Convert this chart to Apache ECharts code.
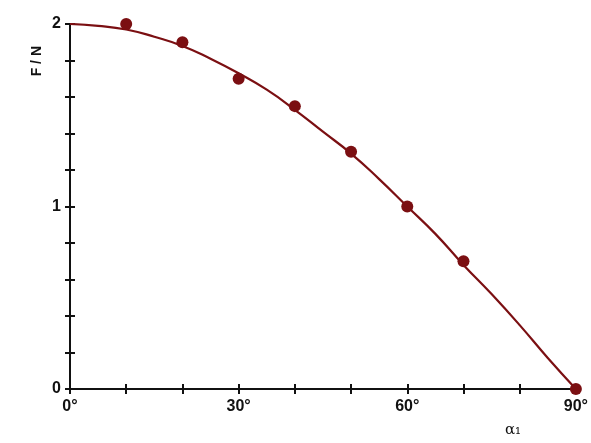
<!DOCTYPE html>
<html>
<head>
<meta charset="utf-8">
<script src="https://cdn.jsdelivr.net/npm/echarts@6/dist/echarts.min.js"></script>
<style>
  html, body { margin: 0; padding: 0; background: #fff; }
  #main { width: 591px; height: 443px; }
</style>
</head>
<body>
<div id="main"></div>
<script>
// measured points (angle in degrees, force in N)
var angles = [10, 20, 30, 40, 50, 60, 70, 90];
var forces = [2.0, 1.9, 1.7, 1.55, 1.3, 1.0, 0.7, 0];

// fitted curve
var curveAngles = [0, 5, 10, 15, 20, 25, 30, 35, 40, 45, 50, 55, 60, 65, 70, 75, 80, 85, 90];
var curveForces = [2.0, 1.99, 1.97, 1.93, 1.88, 1.81, 1.73, 1.64, 1.53, 1.41, 1.29, 1.15, 1.0, 0.85, 0.68, 0.52, 0.35, 0.17, 0];

var xLabels = [0, 30, 60, 90];
var yLabels = [0, 1, 2];

var chart = echarts.init(document.getElementById('main'));

var darkRed = '#7b0f12';
var axisFont = { fontFamily: 'Liberation Sans', fontWeight: 'bold', fontSize: 16, color: '#111' };

function pairs(xs, ys) {
  return xs.map(function (x, i) { return [x, ys[i]]; });
}

var option = {
  backgroundColor: '#fff',
  animation: false,
  grid: { left: 70, right: 14, top: 24, bottom: 49 },
  xAxis: [
    {
      type: 'value', min: 0, max: 90, interval: 10,
      axisLine: { lineStyle: { color: '#111', width: 2 } },
      axisTick: { show: true, length: 5, lineStyle: { color: '#111', width: 2 } },
      splitLine: { show: false },
      axisLabel: Object.assign({
        margin: 10,
        formatter: function (v) { return xLabels.indexOf(v) >= 0 ? v + '°' : ''; }
      }, axisFont),
      name: 'α₁',
      nameLocation: 'middle',
      nameGap: 34,
      nameTextStyle: { fontFamily: 'DejaVu Serif', fontSize: 15, color: '#111', padding: [0, 0, 0, 380] }
    },
    {
      type: 'value', min: 0, max: 90, interval: 10, position: 'bottom',
      axisLine: { show: false },
      axisTick: { show: true, inside: true, length: 5, lineStyle: { color: '#111', width: 2 } },
      splitLine: { show: false },
      axisLabel: { show: false }
    }
  ],
  yAxis: [
    {
      type: 'value', min: 0, max: 2, interval: 0.2,
      axisLine: { show: true, lineStyle: { color: '#111', width: 2 } },
      axisTick: { show: true, length: 5, lineStyle: { color: '#111', width: 2 } },
      splitLine: { show: false },
      axisLabel: Object.assign({
        margin: 9,
        formatter: function (v) {
          var r = Math.round(v);
          return (Math.abs(v - r) < 1e-6 && yLabels.indexOf(r) >= 0) ? String(r) : '';
        }
      }, axisFont),
      name: 'F / N',
      nameLocation: 'end',
      nameRotate: 90,
      nameGap: 8,
      nameTextStyle: { fontFamily: 'Liberation Sans', fontWeight: 'bold', fontSize: 14, color: '#111', align: 'right', verticalAlign: 'bottom', padding: [0, 30, 26, 0] }
    },
    {
      type: 'value', min: 0, max: 2, interval: 0.2, position: 'left',
      axisLine: { show: false },
      axisTick: { show: true, inside: true, length: 5, lineStyle: { color: '#111', width: 2 } },
      splitLine: { show: false },
      axisLabel: { show: false }
    }
  ],
  series: [
    {
      type: 'line',
      data: pairs(curveAngles, curveForces),
      smooth: true,
      showSymbol: false,
      lineStyle: { color: darkRed, width: 2.2 },
      z: 3
    },
    {
      type: 'scatter',
      data: pairs(angles, forces),
      symbolSize: 12,
      itemStyle: { color: darkRed, opacity: 1 },
      z: 4
    }
  ]
};

chart.setOption(option);
</script>
</body>
</html>
